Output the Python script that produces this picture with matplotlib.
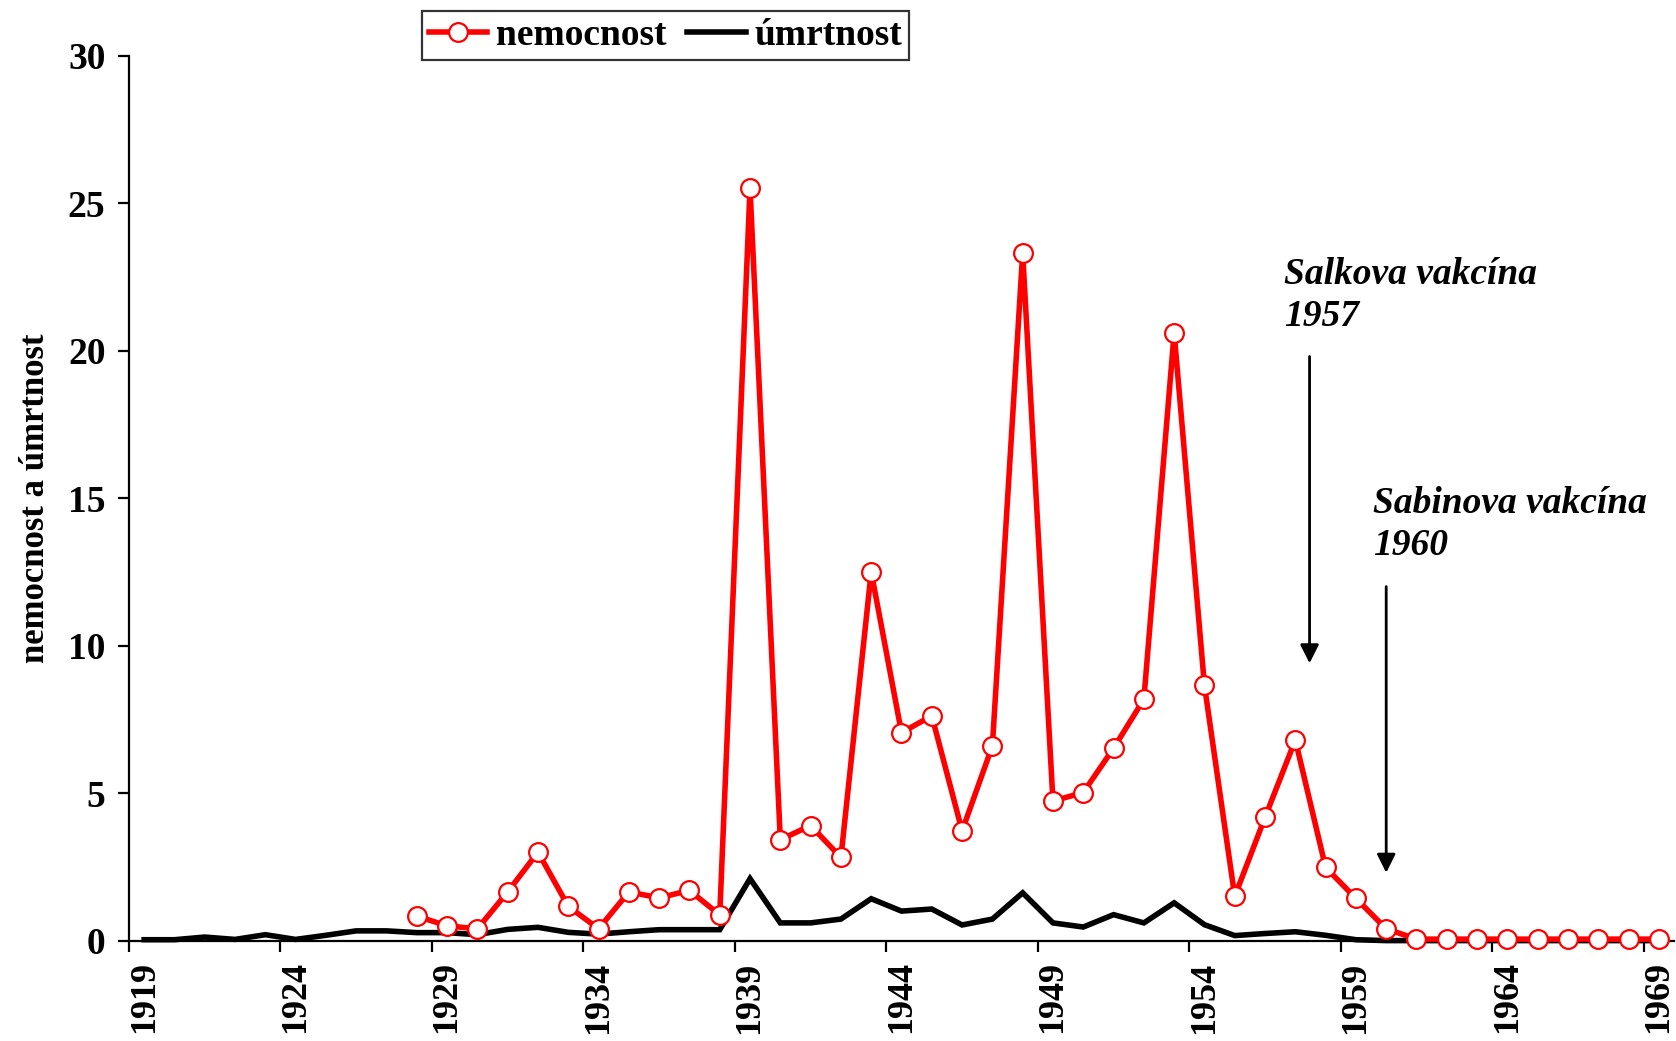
import matplotlib
matplotlib.use('Agg')
import matplotlib.pyplot as plt
from matplotlib.ticker import FixedLocator, NullFormatter, FixedFormatter

# ---- data ----
years = list(range(1919, 1970))
umrtnost = [0.03, 0.03, 0.12, 0.04, 0.2, 0.04, 0.18, 0.33, 0.33, 0.27,
            0.27, 0.2, 0.38, 0.45, 0.28, 0.22, 0.3, 0.37, 0.37, 0.37,
            2.1, 0.6, 0.6, 0.73, 1.42, 1.0, 1.07, 0.53, 0.73, 1.62,
            0.6, 0.46, 0.88, 0.6, 1.28, 0.54, 0.17, 0.24, 0.3, 0.18,
            0.03, 0.0, 0.0, 0.0, 0.0, 0.0, 0.0, 0.0, 0.0, 0.0, 0.0]
nemoc_years = list(range(1928, 1970))
nemocnost = [0.83, 0.5, 0.4, 1.65, 3.0, 1.16, 0.4, 1.65, 1.45, 1.7,
             0.87, 25.5, 3.42, 3.9, 2.82, 12.5, 7.05, 7.62, 3.72, 6.6,
             23.3, 4.73, 5.02, 6.52, 8.18, 20.6, 8.65, 1.5, 4.18, 6.8,
             2.48, 1.43, 0.4, 0.05, 0.05, 0.05, 0.05, 0.05, 0.05, 0.05,
             0.05, 0.05]
label_years = list(range(1919, 1970, 5))
y_ticks = [0, 5, 10, 15, 20, 25, 30]

FONT = 'Liberation Serif'
plt.rcParams['font.family'] = [FONT, 'DejaVu Serif']
plt.rcParams['font.weight'] = 'bold'

fig = plt.figure(figsize=(16.76, 10.41), dpi=100)
ax = fig.add_axes([129/1676, 100.4/1041, 1545/1676, 885/1041])

ax.plot(years, umrtnost, color='black', lw=4, solid_joinstyle='miter',
        clip_on=False, zorder=3, label='úmrtnost')
ax.plot(nemoc_years, nemocnost, color='#ff0000', lw=4, marker='o', ms=13.5,
        mfc='white', mec='#ff0000', mew=1.6, clip_on=False, zorder=4,
        label='nemocnost')

ax.set_xlim(1918.5, 1969.5)
ax.set_ylim(0, 30)
for s in ['top', 'right']:
    ax.spines[s].set_visible(False)
for s in ['left', 'bottom']:
    ax.spines[s].set_linewidth(1.6)

# x: ticks at category boundaries, labels at category centres
ax.xaxis.set_major_locator(FixedLocator([y - 0.5 for y in label_years]))
ax.xaxis.set_major_formatter(NullFormatter())
ax.xaxis.set_minor_locator(FixedLocator(label_years))
ax.xaxis.set_minor_formatter(FixedFormatter([str(y) for y in label_years]))
ax.tick_params(axis='x', which='major', direction='out', length=8, width=1.6)
ax.tick_params(axis='x', which='minor', length=0, pad=15, labelsize=26,
               labelrotation=90)
for t in ax.xaxis.get_minorticklabels():
    t.set_fontweight('bold')
    t.set_va('top')

ax.set_yticks(y_ticks)
ax.tick_params(axis='y', direction='out', length=8, width=1.6, pad=9,
               labelsize=27)
for t in ax.get_yticklabels():
    t.set_fontweight('bold')

ax.set_ylabel('nemocnost a úmrtnost', fontsize=25, fontweight='bold', labelpad=11)

# annotations
ax.text(1956.63, 23.17, 'Salkova vakcína\n1957', fontsize=27, fontweight='bold',
        fontstyle='italic', ha='left', va='top', linespacing=1.25)
ax.annotate('', xy=(1957.47, 9.4), xytext=(1957.47, 19.8),
            arrowprops=dict(arrowstyle='-|>', color='black', lw=2,
                            mutation_scale=28, shrinkA=0, shrinkB=0))
ax.text(1959.58, 15.4, 'Sabinova vakcína\n1960', fontsize=27, fontweight='bold',
        fontstyle='italic', ha='left', va='top', linespacing=1.25)
ax.annotate('', xy=(1960.0, 2.3), xytext=(1960.0, 12.0),
            arrowprops=dict(arrowstyle='-|>', color='black', lw=2,
                            mutation_scale=28, shrinkA=0, shrinkB=0))

h, l = ax.get_legend_handles_labels()
leg = fig.legend([h[1], h[0]], [l[1], l[0]], loc='upper left',
                 bbox_to_anchor=(422/1676, 1 - 11/1041), ncol=2,
                 prop={'family': FONT, 'weight': 'bold', 'size': 27},
                 frameon=True, fancybox=False, edgecolor='black',
                 handlelength=1.55, handletextpad=0.25, columnspacing=0.55,
                 borderpad=0.18, borderaxespad=0)
leg.get_frame().set_linewidth(1.6)

fig.savefig('out.png', dpi=100)
